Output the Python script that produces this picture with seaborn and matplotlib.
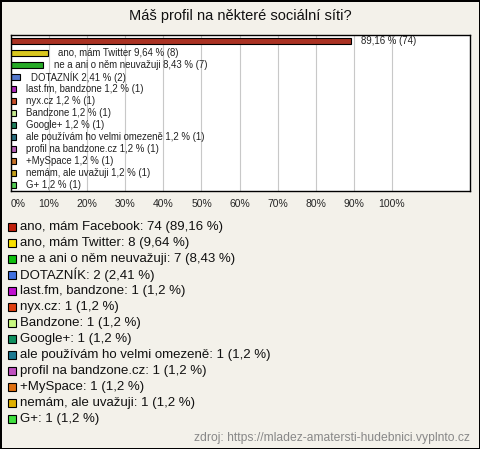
import matplotlib
matplotlib.use("Agg")
import matplotlib.pyplot as plt
import matplotlib.patches as mpatches
import seaborn as sns
import pandas as pd

categories = ["ano, mám Facebook", "ano, mám Twitter", "ne a ani o něm neuvažuji",
              "DOTAZNÍK", "last.fm, bandzone", "nyx.cz", "Bandzone", "Google+",
              "ale používám ho velmi omezeně", "profil na bandzone.cz", "+MySpace",
              "nemám, ale uvažuji", "G+"]
counts = [74, 8, 7, 2, 1, 1, 1, 1, 1, 1, 1, 1, 1]
percents = [89.16, 9.64, 8.43, 2.41, 1.2, 1.2, 1.2, 1.2, 1.2, 1.2, 1.2, 1.2, 1.2]
colors = ["#c0200c", "#f8e000", "#10c010", "#4070e0", "#c010d0", "#e04010",
          "#c8f880", "#109060", "#1a7890", "#c050c0", "#e07010", "#e0b000", "#40e040"]

bg = "#f3f1ea"
sns.set_style("white")
plt.rcParams["font.family"] = ["Liberation Sans", "DejaVu Sans"]

df = pd.DataFrame({"name": categories, "pct": percents, "n": counts})

def fmt(p):
    return f"{p:g}".replace(".", ",")

W, H = 480, 449
fig = plt.figure(figsize=(4.8, 4.49), dpi=100, facecolor=bg)
fig.patch.set_edgecolor("black")
fig.patch.set_linewidth(2)

ax = fig.add_axes([11 / W, 1 - 191 / H, 459 / W, 156 / H])
sns.barplot(data=df, y="name", x="pct", hue="name", palette=colors, dodge=False,
            orient="h", width=0.45, edgecolor="black", linewidth=0.8,
            legend=False, ax=ax)
ax.set_facecolor("white")
ax.set_xlim(0, 120.5)
ax.set_ylim(12.5, -0.5)
ax.set_xticks(range(0, 101, 10))
ax.set_xticklabels([f"{t}%" for t in range(0, 101, 10)], fontsize=7.5)
ax.get_xticklabels()[0].set_ha("left")
ax.tick_params(axis="x", length=0, pad=6)
ax.set_yticks([])
ax.set_xlabel("")
ax.set_ylabel("")
ax.grid(axis="x", color="#c8c8c8", linewidth=0.8)
ax.set_axisbelow(True)
for s in ax.spines.values():
    s.set_color("black")
    s.set_linewidth(1)

for i, (name, p, n) in enumerate(zip(categories, percents, counts)):
    if i == 0:
        txt = f"{fmt(p)} % ({n})"
    else:
        txt = f"{name} {fmt(p)} % ({n})"
    ax.text(p + 2.8, i, txt, va="center", ha="left", fontsize=6.9, color="#222222")

fig.text(0.5, 1 - 16 / H, "Máš profil na některé sociální síti?", ha="center",
         va="center", fontsize=10.5, color="#111111")

# legend below the chart
for i, (name, p, n, c) in enumerate(zip(categories, percents, counts, colors)):
    yc = 227 + 16 * i
    fig.patches.append(mpatches.Rectangle((8 / W, 1 - (yc + 4) / H), 8 / W, 8 / H,
                                          facecolor=c, edgecolor="black", linewidth=0.8,
                                          transform=fig.transFigure, figure=fig))
    fig.text(20 / W, 1 - yc / H, f"{name}: {n} ({fmt(p)} %)", ha="left", va="center",
             fontsize=9.5, color="#111111")

fig.text(1 - 10 / W, 1 - 438 / H, "zdroj: https://mladez-amatersti-hudebnici.vyplnto.cz",
         ha="right", va="center", fontsize=8.7, color="#888888")

fig.savefig("out.png", dpi=100, facecolor=bg, edgecolor="black")
